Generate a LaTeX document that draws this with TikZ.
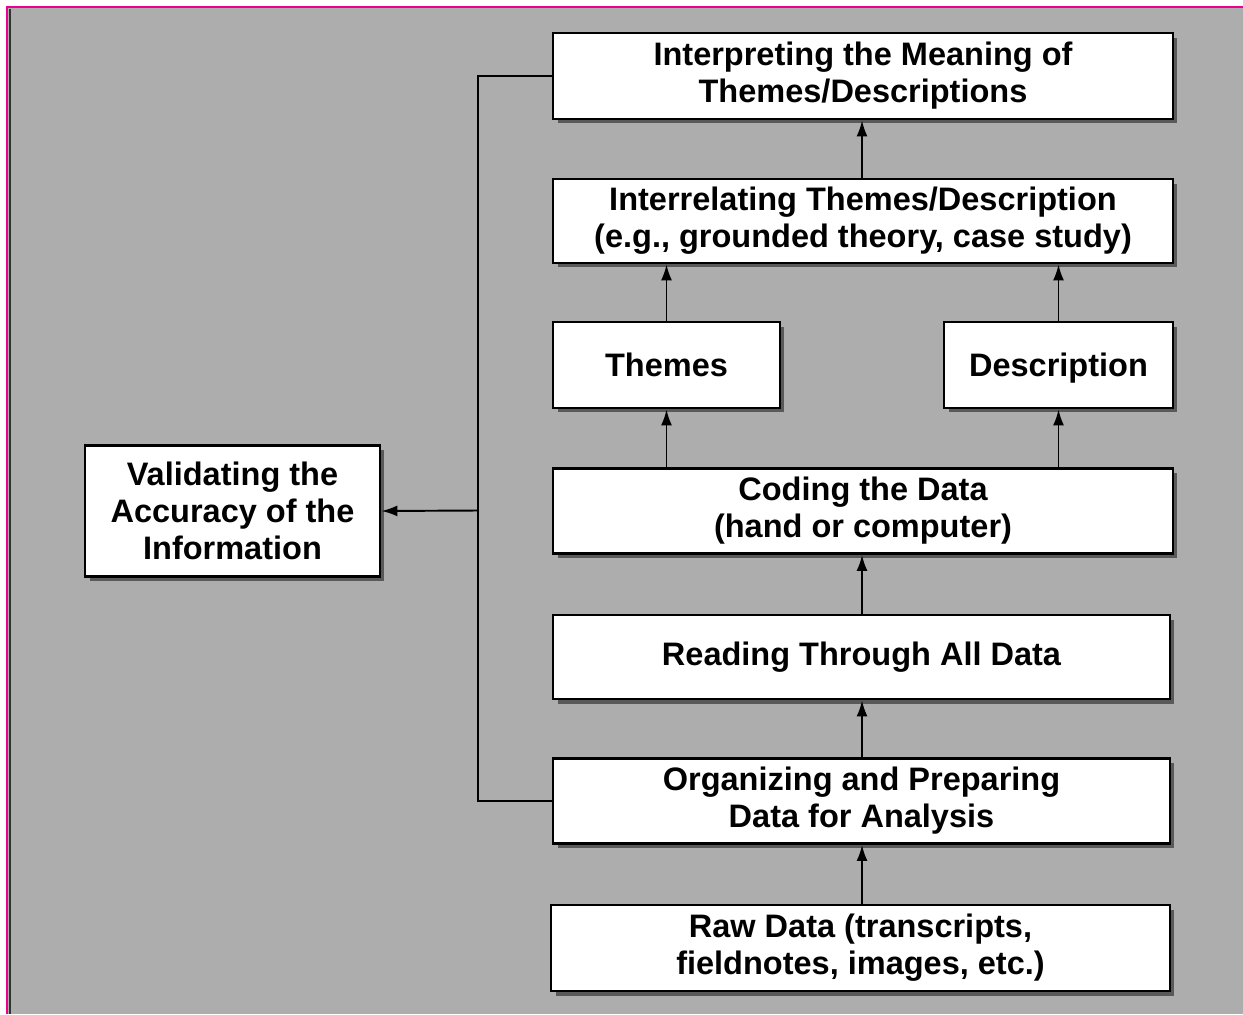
\documentclass[tikz,border=0pt]{standalone}
\usepackage{fontspec}
\setmainfont{Liberation Sans}
\usetikzlibrary{arrows.meta,shadows}

\tikzset{
	stage/.style={draw=black, line width=1.6pt, fill=white, align=center,
		font=\fontsize{18.5}{21}\selectfont\bfseries, inner sep=0pt,
		drop shadow={shadow xshift=0.09cm, shadow yshift=-0.09cm, fill=black!65, opacity=1}},
	single/.style={text depth=0pt},
	flow/.style={line width=1.1pt, -{Latex[length=3.2mm,width=2.2mm]}}
}

\begin{document}
\begin{tikzpicture}[x=0.02cm,y=-0.02cm]
	\useasboundingbox (0,0) rectangle (1243,1014);
	\fill[white] (0,0) rectangle (1243,7);
	\fill[black!32] (7,7) rectangle (1243,1014);
	\draw[magenta, line width=1.2pt] (7,1014) -- (7,7) -- (1243,7);
	\draw[black!80, line width=1.2pt] (10,9) -- (10,1014);

	\node[stage, minimum width=12.4cm, minimum height=1.72cm] (interp) at (863,76) {Interpreting the Meaning of\\Themes/Descriptions};
	\node[stage, minimum width=12.4cm, minimum height=1.68cm] (interrel) at (863,221) {Interrelating Themes/Description\\(e.g., grounded theory, case study)};
	\node[stage, single, minimum width=4.54cm, minimum height=1.72cm] (themes) at (666.5,365) {Themes};
	\node[stage, single, minimum width=4.58cm, minimum height=1.72cm] (descr) at (1058.5,365) {Description};
	\node[stage, minimum width=12.4cm, minimum height=1.70cm] (coding) at (863,511) {Coding the Data\\(hand or computer)};
	\node[stage, minimum width=12.34cm, minimum height=1.68cm] (reading) at (861.5,657) {Reading Through All Data};
	\node[stage, minimum width=12.34cm, minimum height=1.70cm] (organizing) at (861.5,801) {Organizing and Preparing\\Data for Analysis};
	\node[stage, minimum width=12.38cm, minimum height=1.72cm] (raw) at (860.5,948) {Raw Data (transcripts,\\fieldnotes, images, etc.)};
	\node[stage, minimum width=5.9cm, minimum height=2.62cm] (valid) at (232.5,511) {Validating the\\Accuracy of the\\Information};

	\draw[flow] (raw.north -| 862,0) -- (organizing.south -| 862,0);
	\draw[flow] (organizing.north -| 862,0) -- (reading.south -| 862,0);
	\draw[flow] (reading.north -| 862,0) -- (coding.south -| 862,0);
	\draw[flow] (coding.north -| themes) -- (themes.south);
	\draw[flow] (coding.north -| descr) -- (descr.south);
	\draw[flow] (themes.north) -- (interrel.south -| themes);
	\draw[flow] (descr.north) -- (interrel.south -| descr);
	\draw[flow] (interrel.north -| 862,0) -- (interp.south -| 862,0);

	\coordinate (spine) at (478,510.5);
	\draw[line width=1.1pt] (interp.west) -| (spine) |- (organizing.west);
	\draw[flow] (spine) -- (valid.east);
\end{tikzpicture}
\end{document}
